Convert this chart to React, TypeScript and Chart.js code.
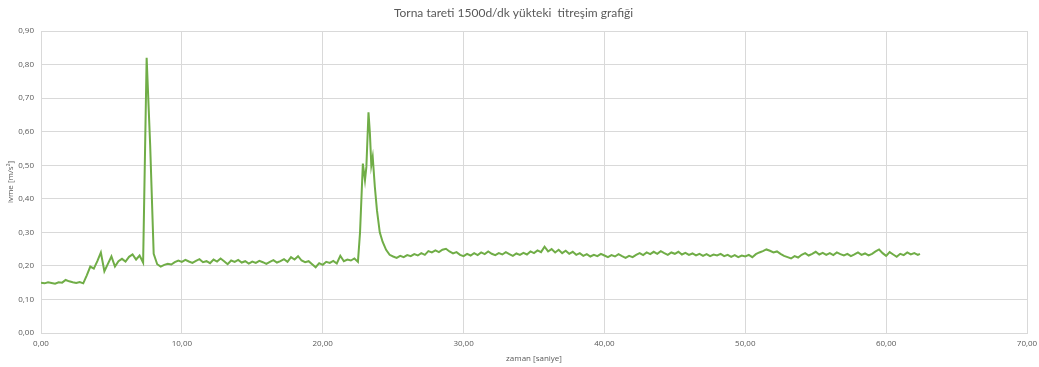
import React, { useEffect, useRef } from "react";
import { Chart, registerables } from "chart.js";

Chart.register(...registerables);

const chartTitle = "Torna tareti 1500d/dk yükteki  titreşim grafiği";
const xTitle = "zaman [saniye]";
const yTitle = "ivme [m/s²]";

// time [s]
const times = [
  0.0, 0.25, 0.5, 0.75, 1.0, 1.25, 1.5, 1.75, 2.0, 2.25,
  2.5, 2.75, 3.0, 3.25, 3.5, 3.75, 4.0, 4.25, 4.5, 4.75,
  5.0, 5.25, 5.5, 5.75, 6.0, 6.25, 6.5, 6.75, 7.0, 7.25,
  7.5, 7.75, 8.0, 8.25, 8.5, 8.75, 9.0, 9.25, 9.5, 9.75,
  10.0, 10.25, 10.5, 10.75, 11.0, 11.25, 11.5, 11.75, 12.0, 12.25,
  12.5, 12.75, 13.0, 13.25, 13.5, 13.75, 14.0, 14.25, 14.5, 14.75,
  15.0, 15.25, 15.5, 15.75, 16.0, 16.25, 16.5, 16.75, 17.0, 17.25,
  17.5, 17.75, 18.0, 18.25, 18.5, 18.75, 19.0, 19.25, 19.5, 19.75,
  20.0, 20.25, 20.5, 20.75, 21.0, 21.25, 21.5, 21.75, 22.0, 22.25,
  22.5, 22.65, 22.85, 23.0, 23.1, 23.25, 23.35, 23.45, 23.55, 23.7,
  23.85, 24.05, 24.25, 24.5, 24.75, 25.0, 25.25, 25.5, 25.75, 26.0,
  26.25, 26.5, 26.75, 27.0, 27.25, 27.5, 27.75, 28.0, 28.25, 28.5,
  28.75, 29.0, 29.25, 29.5, 29.75, 30.0, 30.25, 30.5, 30.75, 31.0,
  31.25, 31.5, 31.75, 32.0, 32.25, 32.5, 32.75, 33.0, 33.25, 33.5,
  33.75, 34.0, 34.25, 34.5, 34.75, 35.0, 35.25, 35.5, 35.75, 36.0,
  36.25, 36.5, 36.75, 37.0, 37.25, 37.5, 37.75, 38.0, 38.25, 38.5,
  38.75, 39.0, 39.25, 39.5, 39.75, 40.0, 40.25, 40.5, 40.75, 41.0,
  41.25, 41.5, 41.75, 42.0, 42.25, 42.5, 42.75, 43.0, 43.25, 43.5,
  43.75, 44.0, 44.25, 44.5, 44.75, 45.0, 45.25, 45.5, 45.75, 46.0,
  46.25, 46.5, 46.75, 47.0, 47.25, 47.5, 47.75, 48.0, 48.25, 48.5,
  48.75, 49.0, 49.25, 49.5, 49.75, 50.0, 50.25, 50.5, 50.75, 51.0,
  51.25, 51.5, 51.75, 52.0, 52.25, 52.5, 52.75, 53.0, 53.25, 53.5,
  53.75, 54.0, 54.25, 54.5, 54.75, 55.0, 55.25, 55.5, 55.75, 56.0,
  56.25, 56.5, 56.75, 57.0, 57.25, 57.5, 57.75, 58.0, 58.25, 58.5,
  58.75, 59.0, 59.25, 59.5, 59.75, 60.0, 60.25, 60.5, 60.75, 61.0,
  61.25, 61.5, 61.75, 62.0, 62.25, 62.4,
];

// acceleration [m/s²]
const accel = [
  0.150, 0.148, 0.151, 0.149, 0.147, 0.151, 0.150, 0.158, 0.154, 0.151,
  0.149, 0.152, 0.148, 0.172, 0.198, 0.192, 0.214, 0.240, 0.184, 0.206,
  0.228, 0.198, 0.214, 0.221, 0.213, 0.227, 0.234, 0.219, 0.231, 0.210,
  0.820, 0.560, 0.236, 0.205, 0.198, 0.203, 0.206, 0.204, 0.211, 0.216,
  0.212, 0.218, 0.213, 0.209, 0.215, 0.220, 0.211, 0.214, 0.208, 0.219,
  0.213, 0.222, 0.214, 0.205, 0.216, 0.212, 0.218, 0.210, 0.214, 0.207,
  0.213, 0.209, 0.215, 0.211, 0.206, 0.212, 0.217, 0.210, 0.214, 0.220,
  0.212, 0.226, 0.219, 0.229, 0.216, 0.211, 0.214, 0.205, 0.196, 0.208,
  0.203, 0.212, 0.209, 0.215, 0.207, 0.230, 0.214, 0.219, 0.216, 0.222,
  0.212, 0.300, 0.505, 0.455, 0.495, 0.658, 0.595, 0.500, 0.525, 0.436,
  0.366, 0.300, 0.272, 0.248, 0.233, 0.228, 0.224, 0.230, 0.226, 0.232,
  0.229, 0.235, 0.231, 0.238, 0.233, 0.244, 0.240, 0.246, 0.241, 0.248,
  0.251, 0.243, 0.237, 0.241, 0.233, 0.229, 0.236, 0.231, 0.238, 0.232,
  0.240, 0.235, 0.243, 0.236, 0.232, 0.238, 0.234, 0.241, 0.235, 0.230,
  0.237, 0.233, 0.239, 0.234, 0.243, 0.238, 0.246, 0.241, 0.257, 0.243,
  0.250, 0.240, 0.248, 0.238, 0.245, 0.236, 0.242, 0.233, 0.238, 0.230,
  0.235, 0.228, 0.233, 0.229, 0.236, 0.231, 0.226, 0.232, 0.228, 0.235,
  0.229, 0.224, 0.230, 0.226, 0.233, 0.238, 0.232, 0.240, 0.235, 0.242,
  0.236, 0.244, 0.238, 0.233, 0.240, 0.236, 0.242, 0.234, 0.239, 0.233,
  0.237, 0.231, 0.236, 0.230, 0.235, 0.229, 0.234, 0.231, 0.236, 0.229,
  0.233, 0.227, 0.232, 0.226, 0.231, 0.228, 0.233, 0.226, 0.235, 0.240,
  0.244, 0.249, 0.245, 0.240, 0.243, 0.236, 0.230, 0.226, 0.222, 0.229,
  0.225, 0.233, 0.238, 0.231, 0.236, 0.242, 0.234, 0.239, 0.233, 0.238,
  0.232, 0.240, 0.235, 0.231, 0.236, 0.229, 0.234, 0.240, 0.233, 0.237,
  0.231, 0.236, 0.243, 0.249, 0.238, 0.230, 0.241, 0.234, 0.227, 0.236,
  0.232, 0.240, 0.234, 0.238, 0.233, 0.236,
];

const xMin = 0;
const xMax = 70;
const xStep = 10;
const yMin = 0;
const yMax = 0.9;
const yStep = 0.1;

const TEXT = "#595959";
const GRID = "#d9d9d9";
const LINE = "#70ad47";
const FONT = "'Open Sans', sans-serif";

const fmt = (v: number) => v.toFixed(2).replace(".", ",");

export default function App() {
  const ref = useRef<HTMLCanvasElement | null>(null);

  useEffect(() => {
    if (!ref.current) return;
    const points = times.map((t, i) => ({ x: t, y: accel[i] }));
    const chart = new Chart(ref.current, {
      type: "line",
      data: {
        datasets: [
          {
            data: points,
            borderColor: LINE,
            borderWidth: 2,
            pointRadius: 0,
            tension: 0,
            fill: false,
          },
        ],
      },
      options: {
        animation: false,
        responsive: false,
        devicePixelRatio: 1,
        layout: { padding: { left: 0, right: 12, top: 0, bottom: 0 } },
        plugins: {
          legend: { display: false },
          tooltip: { enabled: false },
          title: {
            display: true,
            text: chartTitle,
            color: TEXT,
            font: { family: "Lato, sans-serif", size: 12, weight: "normal" },
            padding: { top: 6, bottom: 10.6 },
          },
        },
        scales: {
          x: {
            type: "linear",
            min: xMin,
            max: xMax,
            ticks: {
              stepSize: xStep,
              color: TEXT,
              font: { family: FONT, size: 8 },
              padding: 6,
              maxRotation: 0,
              callback: (v: any) => fmt(Number(v)),
            },
            grid: { color: GRID, drawTicks: false },
            border: { color: GRID },
            title: {
              display: true,
              text: xTitle,
              color: TEXT,
              font: { family: FONT, size: 8 },
              padding: { top: 0, bottom: 3 },
            },
            afterFit: (s: any) => {
              s.height = 34;
              s.paddingRight = 0;
              s.paddingLeft = 0;
            },
          },
          y: {
            type: "linear",
            min: yMin,
            max: yMax,
            ticks: {
              stepSize: yStep,
              color: TEXT,
              font: { family: FONT, size: 8 },
              padding: 7,
              callback: (v: any) => fmt(Number(v)),
            },
            grid: { color: GRID, drawTicks: false },
            border: { display: false },
            title: {
              display: true,
              text: yTitle,
              color: TEXT,
              font: { family: FONT, size: 8 },
              padding: { top: 5.5, bottom: 0 },
            },
            afterFit: (s: any) => {
              s.width = 41;
            },
          },
        },
      },
    });
    return () => chart.destroy();
  }, []);

  return (
    <div style={{ position: "fixed", left: 0, top: 0, width: 1039, height: 367, background: "#fff" }}>
      <canvas ref={ref} width={1039} height={367} style={{ display: "block" }} />
    </div>
  );
}
